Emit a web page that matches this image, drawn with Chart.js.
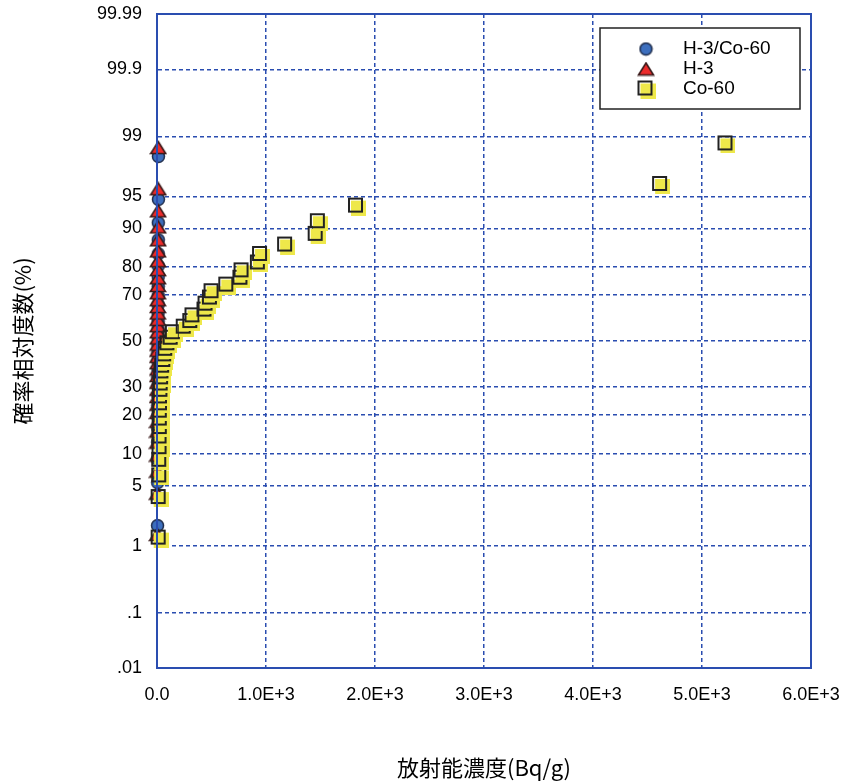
<!DOCTYPE html>
<html>
<head>
<meta charset="utf-8">
<script src="https://cdn.jsdelivr.net/npm/chart.js@4.4.1/dist/chart.umd.min.js"></script>
<style>
    body { margin: 0; background: #ffffff; }
</style>
</head>
<body>
<canvas id="probChart" width="844" height="783"></canvas>
<script>

// cumulative probability (%) and concentration (Bq/g)
const ratioPercent = [1.79, 5.36, 8.93, 12.5, 16.07, 19.64, 23.21, 26.79, 30.36, 33.93, 37.5, 41.07, 44.64, 48.21,
    51.79, 55.36, 58.93, 62.5, 66.07, 69.64, 73.21, 76.79, 80.36, 83.93, 87.5, 91.07, 94.64, 98.21];
const ratioValues = [5, 6, 6, 7, 7, 7, 8, 8, 8, 8, 9, 9, 9, 9,
    10, 10, 10, 10, 10, 11, 11, 11, 11, 12, 12, 12, 13, 13];

const h3Percent = [1.39, 4.17, 6.94, 9.72, 12.5, 15.28, 18.06, 20.83, 23.61, 26.39, 29.17, 31.94, 34.72, 37.5,
    40.28, 43.06, 45.83, 48.61, 51.39, 54.17, 56.94, 59.72, 62.5, 65.28, 68.06, 70.83, 73.61, 76.39,
    79.17, 81.94, 84.72, 87.5, 90.28, 93.06, 95.83, 98.61];
const h3Values = [2, 2, 3, 3, 3, 4, 4, 4, 5, 5, 5, 5, 6, 6,
    6, 6, 6, 7, 7, 7, 7, 7, 8, 8, 8, 8, 8, 9,
    9, 9, 9, 10, 10, 10, 11, 11];

const coPercent = [1.25, 3.75, 6.25, 8.75, 11.25, 13.75, 16.25, 18.75, 21.25, 23.75, 26.25, 28.75, 31.25, 33.75,
    36.25, 38.75, 41.25, 43.75, 46.25, 48.75, 51.25, 53.75, 56.25, 58.75, 61.25, 63.75, 66.25, 68.75,
    71.25, 73.75, 76.25, 78.75, 81.25, 83.75, 86.25, 88.75, 91.25, 93.75, 96.25, 98.75];
const coValues = [20, 20, 25, 25, 28, 28, 30, 30, 30, 32, 32, 36, 38, 42,
    45, 52, 62, 70, 80, 100, 130, 150, 250, 310, 330, 440, 450, 490,
    505, 640, 770, 780, 930, 950, 1180, 1460, 1480, 1830, 4620, 5220];

const yTickValues = [0.01, 0.1, 1, 5, 10, 20, 30, 50, 70, 80, 90, 95, 99, 99.9, 99.99];
const yTickLabels = [".01", ".1", "1", "5", "10", "20", "30", "50", "70", "80", "90", "95", "99", "99.9", "99.99"];
const xTickLabels = ["0.0", "1.0E+3", "2.0E+3", "3.0E+3", "4.0E+3", "5.0E+3", "6.0E+3"];

const seriesNames = ["H-3/Co-60", "H-3", "Co-60"];

// inverse of the standard normal distribution (Acklam)
function probit(percent) {
    const p = percent / 100;
    const a = [-39.69683028665376, 220.9460984245205, -275.9285104469687, 138.3577518672690, -30.66479806614716, 2.506628277459239];
    const b = [-54.47609879822406, 161.5858368580409, -155.6989798598866, 66.80131188771972, -13.28068155288572];
    const c = [-0.007784894002430293, -0.3223964580411365, -2.400758277161838, -2.549732539343734, 4.374664141464968, 2.938163982698783];
    const d = [0.007784695709041462, 0.3224671290700398, 2.445134137142996, 3.754408661907416];
    const pl = 0.02425;
    let q, r;
    if (p < pl) {
        q = Math.sqrt(-2 * Math.log(p));
        return (((((c[0] * q + c[1]) * q + c[2]) * q + c[3]) * q + c[4]) * q + c[5]) /
            ((((d[0] * q + d[1]) * q + d[2]) * q + d[3]) * q + 1);
    }
    if (p > 1 - pl) {
        q = Math.sqrt(-2 * Math.log(1 - p));
        return -(((((c[0] * q + c[1]) * q + c[2]) * q + c[3]) * q + c[4]) * q + c[5]) /
            ((((d[0] * q + d[1]) * q + d[2]) * q + d[3]) * q + 1);
    }
    q = p - 0.5;
    r = q * q;
    return (((((a[0] * r + a[1]) * r + a[2]) * r + a[3]) * r + a[4]) * r + a[5]) * q /
        (((((b[0] * r + b[1]) * r + b[2]) * r + b[3]) * r + b[4]) * r + 1);
}

function toPoints(xs, ps) {
    return xs.map((x, i) => ({ x: x, y: probit(ps[i]) }));
}

// marker images
function makeCircle() {
    const c = document.createElement("canvas");
    c.width = 15; c.height = 15;
    const g = c.getContext("2d");
    g.beginPath();
    g.arc(7.5, 7.5, 6, 0, Math.PI * 2);
    g.fillStyle = "#3d6fbe";
    g.fill();
    g.lineWidth = 1.5;
    g.strokeStyle = "#1d2b4a";
    g.stroke();
    return c;
}

function makeTriangle() {
    const c = document.createElement("canvas");
    c.width = 18; c.height = 15;
    const g = c.getContext("2d");
    g.beginPath();
    g.moveTo(9, 1.5);
    g.lineTo(16.5, 13.5);
    g.lineTo(1.5, 13.5);
    g.closePath();
    g.fillStyle = "#ec2b2b";
    g.fill();
    g.lineWidth = 1.6;
    g.strokeStyle = "#3a1a1a";
    g.stroke();
    return c;
}

function makeSquare() {
    const c = document.createElement("canvas");
    c.width = 19; c.height = 19;
    const g = c.getContext("2d");
    g.fillStyle = "#eee84a";
    g.fillRect(4, 4, 15, 15);
    g.lineWidth = 2;
    g.strokeStyle = "#222222";
    g.strokeRect(2, 2, 13, 13);
    return c;
}

const circleImg = makeCircle();
const triangleImg = makeTriangle();
const squareImg = makeSquare();
const markerImgs = [circleImg, triangleImg, squareImg];

const axisBlue = "#2a4db0";

const framePlugin = {
    id: "frame",
    afterDraw(chart) {
        const { ctx, chartArea } = chart;
        ctx.save();
        ctx.strokeStyle = axisBlue;
        ctx.lineWidth = 2;
        ctx.strokeRect(chartArea.left, chartArea.top, chartArea.right - chartArea.left, chartArea.bottom - chartArea.top);

        // legend box
        const lx = 600, ly = 28, lw = 200, lh = 81;
        ctx.fillStyle = "#ffffff";
        ctx.fillRect(lx, ly, lw, lh);
        ctx.strokeStyle = "#222222";
        ctx.lineWidth = 1.5;
        ctx.strokeRect(lx, ly, lw, lh);
        ctx.font = "19px 'Liberation Sans', Arial, sans-serif";
        ctx.fillStyle = "#000000";
        ctx.textBaseline = "middle";
        seriesNames.forEach((name, i) => {
            const cy = ly + 21 + i * 20;
            const img = markerImgs[i];
            ctx.drawImage(img, 646 - img.width / 2, cy - img.height / 2);
            ctx.fillText(name, 683, cy);
        });
        ctx.restore();
    }
};

const ctx = document.getElementById("probChart").getContext("2d");

new Chart(ctx, {

    type: "scatter",

    data: {
        datasets: [
            {
                label: seriesNames[0],
                data: toPoints(ratioValues, ratioPercent),
                pointStyle: circleImg,
                clip: false,
                order: 3
            },
            {
                label: seriesNames[1],
                data: toPoints(h3Values, h3Percent),
                pointStyle: triangleImg,
                clip: false,
                order: 2
            },
            {
                label: seriesNames[2],
                data: toPoints(coValues, coPercent),
                pointStyle: squareImg,
                clip: false,
                order: 1
            }
        ]
    },

    options: {
        responsive: false,
        animation: false,
        layout: {
            padding: { left: 0, top: 14, right: 33, bottom: 0 }
        },
        plugins: {
            legend: { display: false },
            tooltip: { enabled: false }
        },
        scales: {
            x: {
                type: "linear",
                min: 0,
                max: 6000,
                afterFit(scale) {
                    scale.height = 115;
                    scale.paddingLeft = 0;
                    scale.paddingRight = 0;
                },
                ticks: {
                    stepSize: 1000,
                    padding: 16,
                    color: "#000000",
                    font: { family: "'Liberation Sans', Arial, sans-serif", size: 18 },
                    maxRotation: 0,
                    callback: (value, i) => xTickLabels[i]
                },
                grid: { color: axisBlue, lineWidth: 1.5, drawTicks: false },
                border: { color: axisBlue, width: 2, dash: [4, 3] },
                title: {
                    display: true,
                    text: "放射能濃度(Bq/g)",
                    color: "#000000",
                    font: { family: "'Noto Sans CJK JP', sans-serif", size: 22 },
                    padding: { top: 0, bottom: 2 }
                }
            },
            y: {
                type: "linear",
                min: -3.719,
                max: 3.719,
                afterFit(scale) {
                    scale.width = 157;
                    scale.paddingTop = 0;
                    scale.paddingBottom = 0;
                },
                afterBuildTicks(scale) {
                    scale.ticks = yTickValues.map(v => ({ value: probit(v) }));
                },
                ticks: {
                    padding: 15,
                    color: "#000000",
                    font: { family: "'Liberation Sans', Arial, sans-serif", size: 18 },
                    callback: (value, i) => yTickLabels[i]
                },
                grid: { color: axisBlue, lineWidth: 1.5, drawTicks: false },
                border: { color: axisBlue, width: 2, dash: [4, 3] },
                title: {
                    display: true,
                    text: "確率相対度数(%)",
                    color: "#000000",
                    font: { family: "'Noto Sans CJK JP', sans-serif", size: 22 },
                    padding: { top: 9, bottom: 0 }
                }
            }
        }
    },

    plugins: [framePlugin]

});

</script>
</body>
</html>
